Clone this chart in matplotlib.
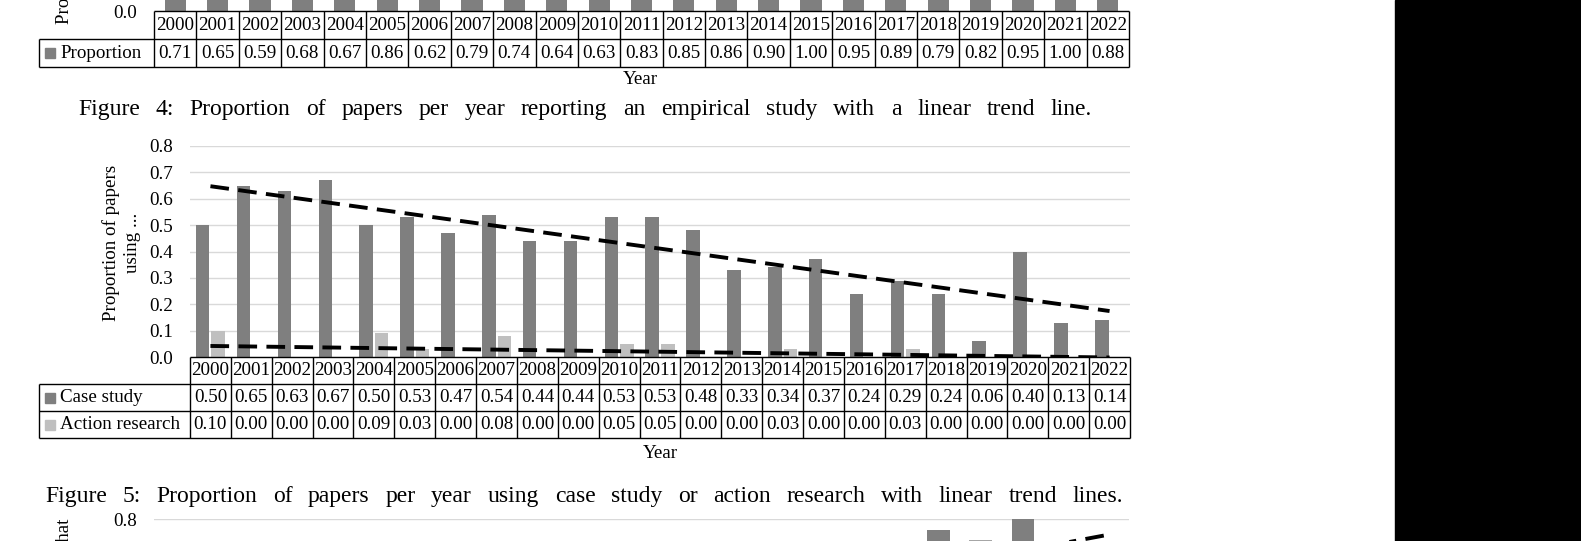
import matplotlib
matplotlib.use('Agg')
import numpy as np
import matplotlib.pyplot as plt
from matplotlib.patches import Rectangle

plt.rcParams['font.family'] = 'Liberation Serif'

#data
years = list(range(2000, 2023))
empirical = [0.71, 0.65, 0.59, 0.68, 0.67, 0.86, 0.62, 0.79, 0.74, 0.64, 0.63, 0.83,
             0.85, 0.86, 0.90, 1.00, 0.95, 0.89, 0.79, 0.82, 0.95, 1.00, 0.88]
case_study = [0.50, 0.65, 0.63, 0.67, 0.50, 0.53, 0.47, 0.54, 0.44, 0.44, 0.53, 0.53,
              0.48, 0.33, 0.34, 0.37, 0.24, 0.29, 0.24, 0.06, 0.40, 0.13, 0.14]
action_research = [0.10, 0.00, 0.00, 0.00, 0.09, 0.03, 0.00, 0.08, 0.00, 0.00, 0.05, 0.05,
                   0.00, 0.00, 0.03, 0.00, 0.00, 0.03, 0.00, 0.00, 0.00, 0.00, 0.00]
# next figure, only its top edge is on the page
fig6_years = [2018, 2019, 2020]
fig6_values = [0.76, 0.72, 0.80]
fig6_trend_years = [2021, 2022]
fig6_trend = [0.71, 0.74]

caption4 = 'Figure 4: Proportion of papers per year reporting an empirical study with a linear trend line.'
caption5 = 'Figure 5: Proportion of papers per year using case study or action research with linear trend lines.'

W, H = 1581, 541
DARK = '#7f7f7f'
LIGHT = '#bfbfbf'
GRID = '#d9d9d9'
FS = 13.7

fig = plt.figure(figsize=(W / 100, H / 100), dpi=100)


def chart_axes(left, right, y0, y_top, ymax, ticks=None):
    # y0 = pixel row of value 0, y_top = pixel row of ymax
    ax = fig.add_axes([left / W, 1 - y0 / H, (right - left) / W, (y0 - y_top) / H])
    ax.set_xlim(0, len(years))
    ax.set_ylim(0, ymax)
    for s in ax.spines.values():
        s.set_visible(False)
    ax.set_xticks([])
    if ticks is None:
        ticks = np.arange(0, ymax + 0.001, 0.1)
    ax.set_yticks(ticks)
    ax.yaxis.set_major_formatter(matplotlib.ticker.FormatStrFormatter('%.1f'))
    ax.tick_params(axis='y', length=0, labelsize=FS, pad=12.5)
    ax.grid(axis='y', color=GRID, linewidth=1)
    ax.set_axisbelow(True)
    ax.patch.set_alpha(0)
    return ax


def trend(values):
    x = np.arange(len(values))
    k, b = np.polyfit(x, values, 1)
    return k * x[[0, -1]] + b


# ---- figure 4 (bottom part only, the rest is above the page edge)
ax4 = chart_axes(154, 1129, 11, 11 - 264, 1.0, ticks=[0.0])
idx = np.arange(len(years)) + 0.5
ax4.bar(idx, empirical, width=0.5, color=DARK)

# ---- figure 5
ax5 = chart_axes(190, 1130, 357, 146, 0.8)
ax5.bar(idx - 0.19, case_study, width=0.33, color=DARK)
ax5.bar(idx + 0.19, action_research, width=0.33, color=LIGHT)
for vals in (case_study, action_research):
    ax5.plot(idx[[0, -1]], trend(vals), color='black', lw=2.8,
             linestyle=(0, (4.8, 2.4)))

# ---- figure 6 (top edge only)
ax6 = chart_axes(154, 1129, 519 + 211, 519, 0.8, ticks=[0.8])
pos6 = [years.index(y) + 0.5 for y in fig6_years]
ax6.bar(pos6, fig6_values, width=0.54, color=[DARK, '#a6a6a6', DARK])
ax6.plot([years.index(y) + 0.5 for y in fig6_trend_years], fig6_trend,
         color='black', lw=2.8, linestyle=(3, (4.8, 2.4)))

# ---- overlay in page pixels for tables and captions
ov = fig.add_axes([0, 0, 1, 1])
ov.set_xlim(0, W)
ov.set_ylim(H, 0)
ov.axis('off')
ov.patch.set_alpha(0)
ov.set_zorder(5)


def data_table(x_left, x0, x1, row_tops, rows):
    n = len(years)
    cw = (x1 - x0) / n
    y_top, y_bot = row_tops[0], row_tops[-1]
    ov.hlines(row_tops[0], x0, x1, color='black', lw=1)
    ov.hlines(row_tops[1:], x_left, x1, color='black', lw=1)
    ov.vlines([x0 + i * cw for i in range(n + 1)], y_top, y_bot, color='black', lw=1)
    ov.vlines(x_left, row_tops[1], y_bot, color='black', lw=1)
    yc = (row_tops[0] + row_tops[1]) / 2
    for i, y in enumerate(years):
        ov.text(x0 + (i + 0.5) * cw, yc, str(y), ha='center', va='center', fontsize=FS)
    for r, (label, color, vals) in enumerate(rows):
        yc = (row_tops[r + 1] + row_tops[r + 2]) / 2
        ov.add_patch(Rectangle((x_left + 6, yc - 5), 10, 10, color=color))
        ov.text(x_left + 21, yc, label, ha='left', va='center', fontsize=FS)
        for i, v in enumerate(vals):
            ov.text(x0 + (i + 0.5) * cw, yc, f'{v:.2f}', ha='center', va='center', fontsize=FS)


data_table(39, 154, 1129, [11, 39, 67], [('Proportion', DARK, empirical)])
data_table(39, 190, 1130, [357, 384, 411, 438],
           [('Case study', DARK, case_study), ('Action research', LIGHT, action_research)])

ov.text(640, 79, 'Year', ha='center', va='center', fontsize=FS)
ov.text(660, 453, 'Year', ha='center', va='center', fontsize=FS)
ov.text(122, 243, 'Proportion of papers\nusing ...', rotation=90, ha='center', va='center',
        fontsize=FS, linespacing=1.3, multialignment='center')
ov.text(64, 24, 'Proportion of papers reporting', rotation=90, ha='center', va='bottom', fontsize=FS)
ov.text(64, 519, 'Proportion of papers that', rotation=90, ha='center', va='top', fontsize=FS)


def justified(text, x0, x1, y, size):
    # spread the words over the line like a justified caption
    renderer = fig.canvas.get_renderer()
    objs = [ov.text(0, y, w, fontsize=size, ha='left', va='baseline') for w in text.split()]
    widths = [o.get_window_extent(renderer).width for o in objs]
    gap = (x1 - x0 - sum(widths)) / (len(objs) - 1)
    x = x0
    for o, w in zip(objs, widths):
        o.set_x(x)
        x += w + gap


justified(caption4, 78, 1092, 115, 17)
justified(caption5, 45, 1123, 502, 17)

ov.add_patch(Rectangle((1395, 0), W - 1395, H, color='black'))

fig.savefig('out.png', dpi=100)
